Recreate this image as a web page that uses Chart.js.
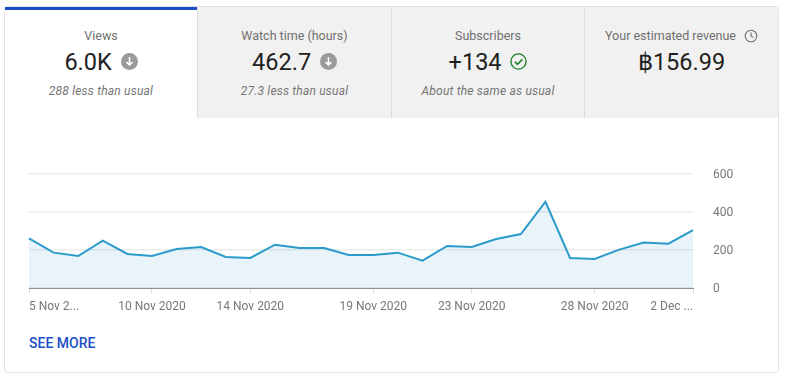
<!DOCTYPE html>
<html lang="en">
<head>
    <meta charset="UTF-8">
    <title>Channel analytics</title>
    <script src="https://cdn.jsdelivr.net/npm/chart.js"></script>
    <style>
        html, body { margin: 0; padding: 0; background: #fff; overflow: hidden; }
        body { width: 787px; height: 382px; position: relative; font-family: Roboto, Arial, sans-serif; }
        .card { position: absolute; left: 4px; top: 6px; width: 773px; height: 365px; border: 1px solid #e2e2e2; border-radius: 4px; }
        .tab { position: absolute; top: 0; height: 111px; background: #f1f1f1; border-left: 1px solid #dcdcdc; text-align: center; box-sizing: border-box; }
        .tab.active { background: #fff; border-left: none; border-top: 3px solid #1c4fc7; }
        .name { position: absolute; left: 0; right: 0; top: 21px; font-size: 12.5px; color: #6f6f6f; line-height: 15px; }
        .active .name { top: 18px; }
        .val { position: absolute; left: 0; right: 0; top: 38px; font-size: 23.5px; color: #212121; line-height: 34px; }
        .active .val { top: 35px; }
        .val svg { vertical-align: 0; margin-left: 3px; }
        .sub { position: absolute; left: 0; right: 0; top: 77px; font-size: 12px; font-style: italic; letter-spacing: .2px; color: #757575; line-height: 15px; }
        .active .sub { top: 74px; }
        .name svg { vertical-align: -3px; margin-left: 8px; }
        #chartWrap { position: absolute; left: 0; top: 160px; width: 787px; height: 160px; }
        .more { position: absolute; left: 29px; top: 335px; font-size: 14px; font-weight: 500; color: #1c4fc7; line-height: 16px; }
    </style>
</head>
<body>
    <div class="card">
        <div class="tab active" style="left:0;width:192px">
            <div class="name">Views</div>
            <div class="val">6.0K <svg width="17" height="17" viewBox="0 0 17 17"><circle cx="8.5" cy="8.5" r="8.5" fill="#9a9a9a"/><path d="M8.5 4v8M5.5 9l3 3 3-3" stroke="#fff" stroke-width="1.6" fill="none"/></svg></div>
            <div class="sub">288 less than usual</div>
        </div>
        <div class="tab" style="left:192px;width:194px">
            <div class="name">Watch time (hours)</div>
            <div class="val">462.7 <svg width="17" height="17" viewBox="0 0 17 17"><circle cx="8.5" cy="8.5" r="8.5" fill="#9a9a9a"/><path d="M8.5 4v8M5.5 9l3 3 3-3" stroke="#fff" stroke-width="1.6" fill="none"/></svg></div>
            <div class="sub">27.3 less than usual</div>
        </div>
        <div class="tab" style="left:386px;width:193px">
            <div class="name">Subscribers</div>
            <div class="val">+134 <svg width="17" height="17" viewBox="0 0 17 17"><circle cx="8.5" cy="8.5" r="7.6" fill="none" stroke="#1b7f2a" stroke-width="1.4"/><path d="M4.8 8.8l2.6 2.6 5-5" stroke="#1b7f2a" stroke-width="1.5" fill="none"/></svg></div>
            <div class="sub">About the same as usual</div>
        </div>
        <div class="tab" style="left:579px;width:194px">
            <div class="name">Your estimated revenue<svg width="14" height="14" viewBox="0 0 14 14"><circle cx="7" cy="7" r="5.8" fill="none" stroke="#6f6f6f" stroke-width="1.1"/><path d="M7 3.6V7l2.4 1.6" stroke="#6f6f6f" stroke-width="1.1" fill="none"/></svg></div>
            <div class="val">฿156.99</div>
        </div>
    </div>
    <div id="chartWrap"><canvas id="viewsChart" width="787" height="160"></canvas></div>
    <div class="more">SEE MORE</div>

    <script>
        const categories = ['5 Nov 2020', '6 Nov 2020', '7 Nov 2020', '8 Nov 2020', '9 Nov 2020', '10 Nov 2020', '11 Nov 2020',
            '12 Nov 2020', '13 Nov 2020', '14 Nov 2020', '15 Nov 2020', '16 Nov 2020', '17 Nov 2020', '18 Nov 2020',
            '19 Nov 2020', '20 Nov 2020', '21 Nov 2020', '22 Nov 2020', '23 Nov 2020', '24 Nov 2020', '25 Nov 2020',
            '26 Nov 2020', '27 Nov 2020', '28 Nov 2020', '29 Nov 2020', '30 Nov 2020', '1 Dec 2020', '2 Dec 2020'];
        const views = [261, 186, 168, 249, 179, 168, 205, 216, 163, 158, 228, 210, 210, 174,
            174, 186, 144, 221, 216, 258, 284, 454, 158, 153, 202, 239, 233, 304];
        const tickDates = ['5 Nov 2020', '10 Nov 2020', '14 Nov 2020', '19 Nov 2020', '23 Nov 2020', '28 Nov 2020', '2 Dec 2020'];
        const tickLabels = ['5 Nov 2...', '10 Nov 2020', '14 Nov 2020', '19 Nov 2020', '23 Nov 2020', '28 Nov 2020', '2 Dec ...'];
        const yTicks = [0, 200, 400, 600];

        const tickFont = { family: 'Roboto', size: 12 };

        new Chart(document.getElementById('viewsChart').getContext('2d'), {
            type: 'line',
            data: {
                labels: categories,
                datasets: [{
                    data: views,
                    borderColor: '#2a9bcb',
                    borderWidth: 2,
                    backgroundColor: 'rgba(42, 155, 203, 0.11)',
                    fill: 'origin',
                    pointRadius: 0,
                    tension: 0
                }]
            },
            options: {
                responsive: false,
                animation: false,
                layout: { padding: { left: 29, top: 14, right: 0, bottom: 0 } },
                plugins: { legend: { display: false }, tooltip: { enabled: false } },
                scales: {
                    x: {
                        afterBuildTicks: scale => {
                            scale.ticks = scale.ticks.filter(t => tickDates.includes(categories[t.value]));
                        },
                        afterFit: scale => { scale.height = 32; },
                        grid: { drawOnChartArea: false, color: '#dddddd', tickLength: 5 },
                        border: { color: '#909090', width: 1 },
                        ticks: {
                            autoSkip: false,
                            maxRotation: 0,
                            align: 'inner',
                            padding: 7,
                            color: '#777777',
                            font: tickFont,
                            callback: function(value) {
                                return tickLabels[tickDates.indexOf(categories[value])];
                            }
                        }
                    },
                    y: {
                        position: 'right',
                        min: 0,
                        max: 600,
                        afterBuildTicks: scale => {
                            scale.ticks = yTicks.map(v => ({ value: v }));
                        },
                        // tick padding would otherwise push the plot top down
                        afterFit: scale => {
                            scale.width = 94;
                            scale.paddingTop = 0;
                            scale.paddingBottom = 0;
                        },
                        grid: { color: '#ebebeb', lineWidth: 1.5, drawTicks: false },
                        border: { display: false },
                        ticks: { padding: 20, labelOffset: 1, color: '#777777', font: tickFont }
                    }
                }
            }
        });
    </script>
</body>
</html>
